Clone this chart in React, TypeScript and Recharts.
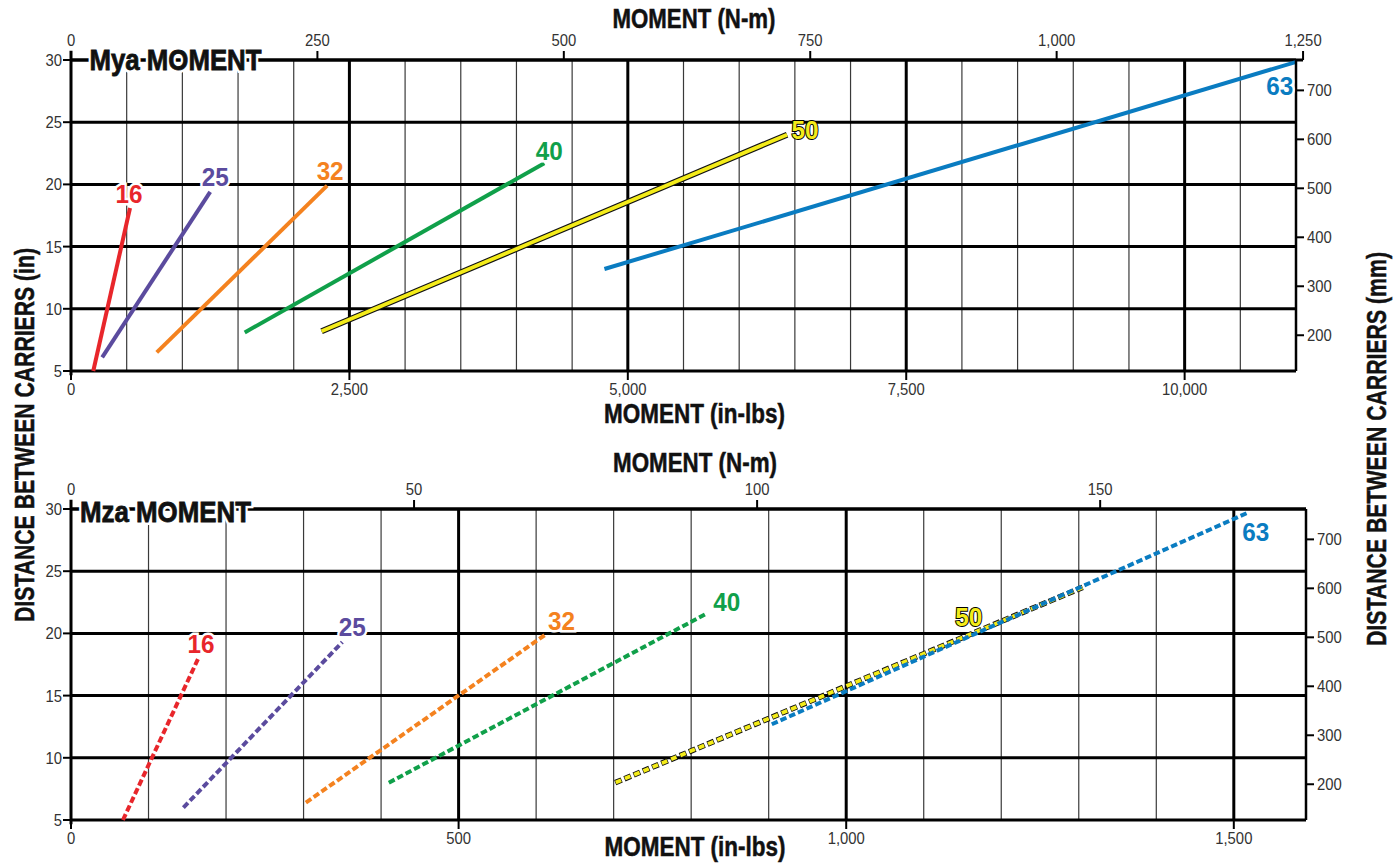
import React from 'react';
import { LineChart, Line, XAxis, YAxis, ReferenceLine, LabelList } from 'recharts';

const INLB_PER_NM = 8.8507;
const MM_PER_IN = 25.4;
const FONT = "'Liberation Sans Narrow', 'Arial Narrow', 'Liberation Sans', sans-serif";

// bore sizes and their colours
const bores = ['16', '25', '32', '40', '50', '63'];
const boreColors = ['#e8262b', '#5b4b9e', '#f4821f', '#10a04a', '#f4ec1a', '#0a7cc1'];

// Mya moment: [moment in-lbs, distance between carriers in]
const mya16 = [[200, 5], [530, 18.1]];
const mya25 = [[280, 6.1], [1250, 19.4]];
const mya32 = [[770, 6.5], [2300, 19.9]];
const mya40 = [[1560, 8.1], [4250, 21.7]];
const mya50 = [[2250, 8.2], [6430, 24]];
const mya63 = [[4790, 13.2], [11060, 30]];

// Mza moment
const mza16 = [[67, 5], [165, 18.1]];
const mza25 = [[145, 6], [350, 19.3]];
const mza32 = [[303, 6.4], [612, 19.9]];
const mza40 = [[410, 8], [820, 21.6]];
const mza50 = [[702, 8], [1305, 23.7]];
const mza63 = [[904, 12.7], [1518, 29.7]];

// axes
const distanceTicks = [5, 10, 15, 20, 25, 30];
const mmTicks = [200, 300, 400, 500, 600, 700];

const myaMaxInLbs = 11000;
const myaInLbsTicks = [0, 2500, 5000, 7500, 10000];
const myaMinorX = [500, 1000, 1500, 2000, 3000, 3500, 4000, 4500, 5500, 6000, 6500, 7000, 8000, 8500, 9000, 9500, 10500];
const myaNmTicks = [0, 250, 500, 750, 1000, 1250];

const mzaMaxNm = 180;
const mzaInLbsTicks = [0, 500, 1000, 1500];
const mzaMinorX = [100, 200, 300, 400, 600, 700, 800, 900, 1100, 1200, 1300, 1400];
const mzaNmTicks = [0, 50, 100, 150];

// label offsets (px) from the end of each line
const myaLabelOffsets = [[-1, -14], [5, -15], [3, -15], [5, -12], [18, -5], [-23, 26]];
const mzaLabelOffsets = [[2, -13], [10, -15], [16, -14], [20, -11], [-114, 30], [8, 19]];

const fmt = (v: number) => v.toLocaleString('en-US');
const tickLineStyle = { stroke: '#000', strokeWidth: 2 };

const toPoints = (arr: number[][]) => arr.map(([x, y]) => ({ x, y }));

// light, slightly condensed tick text
function NarrowTick(props: any) {
  const { x, y, payload, textAnchor, verticalAnchor } = props;
  const dy = verticalAnchor === 'start' ? '0.71em' : verticalAnchor === 'end' ? '-0.1em' : '0.36em';
  return (
    <text
      transform={`translate(${x},${y}) scale(0.9,1)`}
      textAnchor={textAnchor}
      dy={dy}
      fontSize={16.5}
      fontFamily={FONT}
      fill="#333"
    >
      {fmt(payload.value)}
    </text>
  );
}

function boreLabel(name: string, color: string, dx: number, dy: number, last: number) {
  return (props: any) => {
    if (props.index !== last) return null;
    const x = (props.x ?? props.viewBox?.x) + dx;
    const y = (props.y ?? props.viewBox?.y) + dy;
    const yellow = name === '50';
    return (
      <text
        x={x}
        y={y}
        textAnchor="middle"
        dominantBaseline="central"
        fontFamily={FONT}
        fontWeight="bold"
        fontSize={26}
        fill={color}
        stroke={yellow ? '#000' : '#fff'}
        strokeWidth={yellow ? 2 : 5}
        paintOrder="stroke"
        textLength={27}
        lengthAdjust="spacingAndGlyphs"
      >
        {name}
      </text>
    );
  };
}

type PanelProps = {
  top: number;
  height: number;
  plotTop: number;
  plotBottom: number;
  plotRight: number;
  maxInLbs: number;
  inLbsTicks: number[];
  minorX: number[];
  nmTicks: number[];
  series: number[][][];
  labelOffsets: number[][];
  dashed: boolean;
};

function Panel(p: PanelProps) {
  const majorX = p.inLbsTicks.filter((v) => v > 0);
  const maxNm = p.maxInLbs / INLB_PER_NM;
  const topEdge = Math.max(p.maxInLbs, p.nmTicks[p.nmTicks.length - 1] * INLB_PER_NM);
  const dash = p.dashed ? '6.5 3' : undefined;
  // carries the N-m axis extent so the top axis has something to scale
  const nmExtent = [{ x: 0, y: 5 }, { x: maxNm, y: 5 }];
  return (
    <div style={{ position: 'absolute', left: 0, top: p.top, width: 1400, height: p.height }}>
      <LineChart width={1400} height={p.height} margin={{ top: 0, right: 0, bottom: 0, left: 0 }}>
        <XAxis
          xAxisId="in"
          type="number"
          dataKey="x"
          domain={[0, p.maxInLbs]}
          allowDataOverflow
          ticks={p.inLbsTicks}
          interval={0}
          orientation="bottom"
          height={p.height - p.plotBottom}
          axisLine={false}
          tickLine={tickLineStyle}
          tickSize={9}
          tickMargin={3}
          tick={<NarrowTick />}
        />
        <XAxis
          xAxisId="nm"
          type="number"
          dataKey="x"
          domain={[0, maxNm]}
          allowDataOverflow
          ticks={p.nmTicks}
          interval={0}
          orientation="top"
          height={p.plotTop}
          axisLine={false}
          tickLine={tickLineStyle}
          tickSize={9}
          tickMargin={3}
          tick={<NarrowTick />}
        />
        <YAxis
          yAxisId="in"
          type="number"
          domain={[5, 30]}
          ticks={distanceTicks}
          interval={0}
          width={71}
          axisLine={false}
          tickLine={tickLineStyle}
          tickSize={8}
          tickMargin={1}
          tick={<NarrowTick />}
        />
        <YAxis
          yAxisId="mm"
          orientation="right"
          type="number"
          domain={[5 * MM_PER_IN, 30 * MM_PER_IN]}
          allowDataOverflow
          ticks={mmTicks}
          interval={0}
          width={1400 - p.plotRight}
          axisLine={{ stroke: '#000', strokeWidth: 2.5 }}
          tickLine={tickLineStyle}
          tickSize={8}
          tickMargin={3}
          tick={<NarrowTick />}
        />
        {p.minorX.map((v) => (
          <ReferenceLine key={'minor' + v} xAxisId="in" yAxisId="in" x={v} stroke="#3a3a3a" strokeWidth={1.2} />
        ))}
        {majorX.map((v) => (
          <ReferenceLine key={'major' + v} xAxisId="in" yAxisId="in" x={v} stroke="#000" strokeWidth={3} />
        ))}
        {distanceTicks.map((v) => (
          <ReferenceLine key={'h' + v} xAxisId="in" yAxisId="in" y={v} stroke="#000" strokeWidth={3} />
        ))}
        <ReferenceLine
          xAxisId="in"
          yAxisId="in"
          segment={[{ x: 0, y: 30 }, { x: topEdge, y: 30 }]}
          ifOverflow="visible"
          stroke="#000"
          strokeWidth={3}
        />
        <ReferenceLine
          xAxisId="in"
          yAxisId="in"
          segment={[{ x: 0, y: 30.75 }, { x: 0, y: 4.65 }]}
          ifOverflow="visible"
          stroke="#000"
          strokeWidth={3}
        />
        <Line
          xAxisId="nm"
          yAxisId="in"
          data={nmExtent}
          dataKey="y"
          stroke="none"
          dot={false}
          activeDot={false}
          legendType="none"
          isAnimationActive={false}
        />
        {p.series.map((s, i) => {
          const pts = toPoints(s);
          const last = pts.length - 1;
          const [dx, dy] = p.labelOffsets[i];
          const yellow = bores[i] === '50';
          const lines = [];
          if (yellow) {
            lines.push(
              <Line
                key={'outline' + i}
                xAxisId="in"
                yAxisId="in"
                data={pts}
                dataKey="y"
                type="linear"
                stroke="#111"
                strokeWidth={p.dashed ? 5.6 : 6}
                strokeDasharray={p.dashed ? '7 3' : undefined}
                dot={false}
                activeDot={false}
                isAnimationActive={false}
              />
            );
          }
          lines.push(
            <Line
              key={'line' + i}
              xAxisId="in"
              yAxisId="in"
              data={pts}
              dataKey="y"
              type="linear"
              stroke={boreColors[i]}
              strokeWidth={yellow ? 3.8 : 4}
              strokeDasharray={yellow && p.dashed ? '5.8 4.2' : dash}
              strokeDashoffset={yellow && p.dashed ? -0.6 : undefined}
              dot={false}
              activeDot={false}
              isAnimationActive={false}
            >
              <LabelList dataKey="y" content={boreLabel(bores[i], boreColors[i], dx, dy, last)} />
            </Line>
          );
          return lines;
        })}
      </LineChart>
    </div>
  );
}

const titleStyle = {
  fontFamily: FONT,
  fontWeight: 'bold' as const,
  fill: '#111',
  stroke: '#111',
  strokeWidth: 0.5,
};

function PanelTitle({ x, y, width, text }: { x: number; y: number; width: number; text: string }) {
  return (
    <g>
      <text x={x} y={y} fontSize={30} textLength={width} lengthAdjust="spacingAndGlyphs" {...titleStyle} stroke="#fff" strokeWidth={6}>
        {text}
      </text>
      <text x={x} y={y} fontSize={30} textLength={width} lengthAdjust="spacingAndGlyphs" {...titleStyle} strokeWidth={0.8}>
        {text}
      </text>
    </g>
  );
}

export default function App() {
  return (
    <div style={{ position: 'absolute', left: 0, top: 0, width: 1400, height: 863, background: '#fff', overflow: 'hidden' }}>
      <Panel
        top={0}
        height={430}
        plotTop={60}
        plotBottom={371}
        plotRight={1296}
        maxInLbs={myaMaxInLbs}
        inLbsTicks={myaInLbsTicks}
        minorX={myaMinorX}
        nmTicks={myaNmTicks}
        series={[mya16, mya25, mya32, mya40, mya50, mya63]}
        labelOffsets={myaLabelOffsets}
        dashed={false}
      />
      <Panel
        top={430}
        height={433}
        plotTop={79}
        plotBottom={390}
        plotRight={1306}
        maxInLbs={mzaMaxNm * INLB_PER_NM}
        inLbsTicks={mzaInLbsTicks}
        minorX={mzaMinorX}
        nmTicks={mzaNmTicks}
        series={[mza16, mza25, mza32, mza40, mza50, mza63]}
        labelOffsets={mzaLabelOffsets}
        dashed
      />
      <svg width={1400} height={863} style={{ position: 'absolute', left: 0, top: 0, pointerEvents: 'none' }}>
        <text x={694} y={28} textAnchor="middle" fontSize={27} textLength={163} lengthAdjust="spacingAndGlyphs" {...titleStyle}>
          MOMENT (N-m)
        </text>
        <text x={694.5} y={423} textAnchor="middle" fontSize={27} textLength={181} lengthAdjust="spacingAndGlyphs" {...titleStyle}>
          MOMENT (in-lbs)
        </text>
        <text x={695} y={472} textAnchor="middle" fontSize={27} textLength={164} lengthAdjust="spacingAndGlyphs" {...titleStyle}>
          MOMENT (N-m)
        </text>
        <text x={695} y={856} textAnchor="middle" fontSize={27} textLength={181} lengthAdjust="spacingAndGlyphs" {...titleStyle}>
          MOMENT (in-lbs)
        </text>
        <text
          transform="translate(34,435) rotate(-90)"
          textAnchor="middle"
          fontSize={28}
          textLength={374}
          lengthAdjust="spacingAndGlyphs"
          {...titleStyle}
        >
          DISTANCE BETWEEN CARRIERS (in)
        </text>
        <text
          transform="translate(1386,449) rotate(-90)"
          textAnchor="middle"
          fontSize={28}
          textLength={394}
          lengthAdjust="spacingAndGlyphs"
          {...titleStyle}
        >
          DISTANCE BETWEEN CARRIERS (mm)
        </text>
        <PanelTitle x={89.5} y={70} width={172} text="Mya MOMENT" />
        <PanelTitle x={80} y={521.5} width={171} text="Mza MOMENT" />
      </svg>
    </div>
  );
}
